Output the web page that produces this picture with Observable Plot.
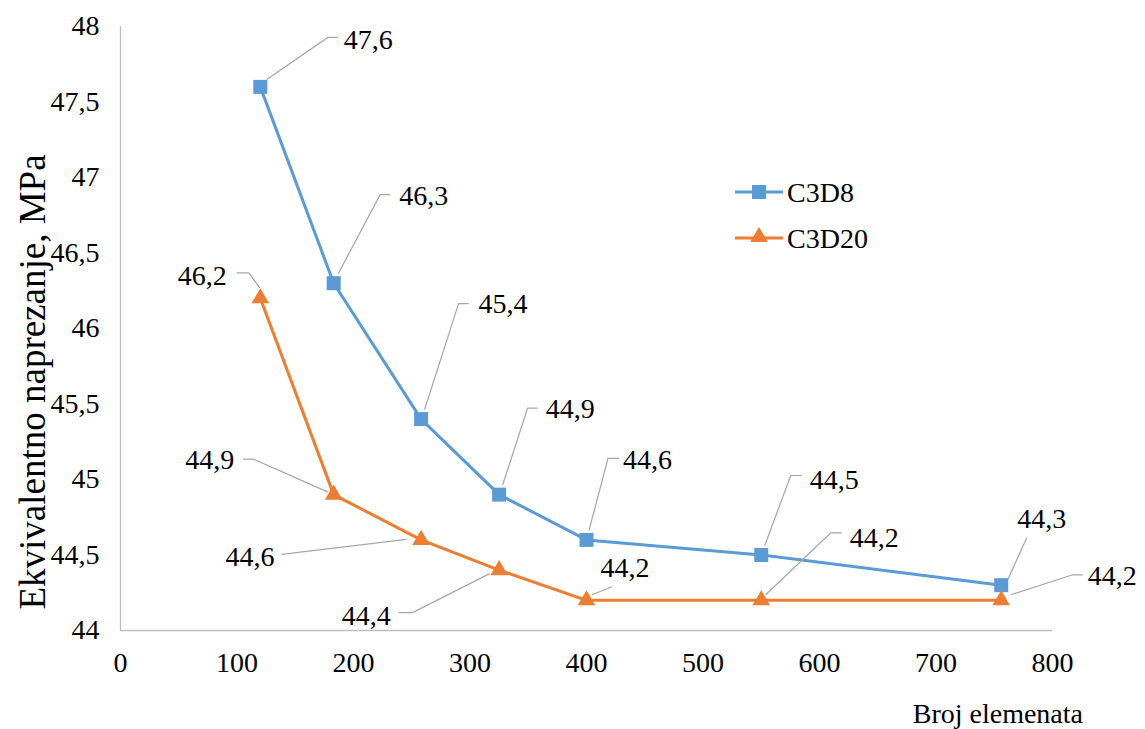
<!DOCTYPE html>
<html>
<head>
<meta charset="utf-8">
<script src="https://cdn.jsdelivr.net/npm/d3@7"></script>
<script src="https://cdn.jsdelivr.net/npm/@observablehq/plot@0.6"></script>
<style>
  html, body { margin: 0; padding: 0; background: #fff; }
  #chart { width: 1145px; height: 729px; }
  #chart svg text { font-family: 'Liberation Serif', serif !important; }
</style>
</head>
<body>
<div id="chart"></div>
<script>
// ---- data ----
const seriesNames = ["C3D8", "C3D20"];
const elementCounts = [120, 183, 258, 325, 400, 550, 756];
const c3d8Values = [47.6, 46.3, 45.4, 44.9, 44.6, 44.5, 44.3];
const c3d20Values = [46.2, 44.9, 44.6, 44.4, 44.2, 44.2, 44.2];
const xTicks = [0, 100, 200, 300, 400, 500, 600, 700, 800];
const yTicks = [44, 44.5, 45, 45.5, 46, 46.5, 47, 47.5, 48];
const xTitle = "Broj elemenata";
const yTitle = "Ekvivalentno naprezanje, MPa";

// ---- styles / layout ----
const colors = ["#5b9bd5", "#ed7d31"];
const font = "'Liberation Serif', serif";
const fontSize = 28;
const leaderColor = "#a6a6a6";
const fmt = v => String(v).replace(".", ",");

// label layout (pixel offsets from the point): start, optional kink, end, text pos, anchor
const labelLayout = {
  "C3D8": [
    {s: [7, -7], k: [68, -49], e: [78, -49], t: [84, -47], a: "start"},
    {s: [5, -9], k: [47, -88], e: [57, -88], t: [66, -88], a: "start"},
    {s: [4, -9], k: [38, -115], e: [48, -115], t: [58, -115], a: "start"},
    {s: [4, -9], k: [29, -86], e: [39, -86], t: [47, -86], a: "start"},
    {s: [3, -9], k: [22, -81], e: [33, -81], t: [37, -80], a: "start"},
    {s: [4, -9], k: [30, -79], e: [41, -79], t: [49, -75], a: "start"},
    {s: [7, -5], k: null, e: [26, -47], t: [41, -67], a: "middle"}
  ],
  "C3D20": [
    {s: [0, -10], k: [-11, -25], e: [-23, -25], t: [-33, -23], a: "end"},
    {s: [-5, -2], k: [-80, -35], e: [-90, -35], t: [-99, -35], a: "end"},
    {s: [-14, 0], k: null, e: [-139, 15], t: [-146, 17], a: "end"},
    {s: [-9, 4], k: [-86, 43], e: [-100, 43], t: [-108, 46], a: "end"},
    {s: [6, -5], k: null, e: [26, -13], t: [39, -33], a: "middle"},
    {s: [5, -5], k: [70, -67], e: [81, -67], t: [89, -63], a: "start"},
    {s: [10, -5], k: [72, -25], e: [82, -25], t: [87, -25], a: "start"}
  ]
};

const valuesBySeries = {"C3D8": c3d8Values, "C3D20": c3d20Values};
const rows = [];
seriesNames.forEach(s => {
  valuesBySeries[s].forEach((v, i) => rows.push({series: s, x: elementCounts[i], y: v, i}));
});

function addText(g, size) {
  return g.append("text")
    .style("font-family", font)
    .style("font-size", size + "px")
    .attr("fill", "#000");
}

function overlay(index, scales, values, dimensions) {
  const g = d3.create("svg:g");
  // data labels with leader lines
  rows.forEach(r => {
    const L = labelLayout[r.series][r.i];
    const px = scales.x(r.x), py = scales.y(r.y);
    const pts = [L.s, L.k, L.e].filter(Boolean).map(([dx, dy]) => [px + dx, py + dy]);
    g.append("path")
      .attr("d", d3.line()(pts))
      .attr("fill", "none")
      .attr("stroke", leaderColor)
      .attr("stroke-width", 1.2);
    addText(g, fontSize)
      .attr("x", px + L.t[0])
      .attr("y", py + L.t[1])
      .attr("dy", "0.35em")
      .attr("text-anchor", L.a)
      .text(fmt(r.y));
  });
  // legend
  const legendX = 735, legendY = [192, 238];
  seriesNames.forEach((s, k) => {
    const y = legendY[k];
    g.append("line").attr("x1", legendX).attr("x2", legendX + 48)
      .attr("y1", y).attr("y2", y)
      .attr("stroke", colors[k]).attr("stroke-width", 3);
    const sym = k === 0 ? d3.symbolSquare : d3.symbolTriangle;
    const size = k === 0 ? 196 : 133;
    g.append("path")
      .attr("d", d3.symbol(sym, size)())
      .attr("transform", `translate(${legendX + 24},${y + (k === 0 ? 0 : -1)})`)
      .attr("fill", colors[k]);
    addText(g, fontSize)
      .attr("x", legendX + 52).attr("y", y)
      .attr("dy", "0.35em")
      .attr("text-anchor", "start")
      .text(s);
  });
  // axis titles
  addText(g, 37)
    .attr("transform", `translate(45,382) rotate(-90)`)
    .attr("text-anchor", "middle")
    .text(yTitle);
  addText(g, fontSize)
    .attr("x", 1083).attr("y", 713)
    .attr("dy", "0.35em")
    .attr("text-anchor", "end")
    .text(xTitle);
  return g.node();
}

const plot = Plot.plot({
  width: 1145,
  height: 729,
  marginLeft: 120,
  marginRight: 93,
  marginTop: 26,
  marginBottom: 99,
  style: {fontSize: fontSize + "px", background: "#fff", color: "#000"},
  x: {domain: [0, 800], ticks: xTicks, tickSize: 0, tickPadding: 22, tickFormat: fmt, label: null},
  y: {domain: [44, 48], ticks: yTicks, tickSize: 0, tickPadding: 21, tickFormat: fmt, label: null},
  color: {domain: seriesNames, range: colors},
  marks: [
    Plot.ruleX([0], {stroke: "#bfbfbf", strokeWidth: 1.3}),
    Plot.ruleY([44], {stroke: "#bfbfbf", strokeWidth: 1.3}),
    Plot.line(rows, {x: "x", y: "y", z: "series", stroke: "series", strokeWidth: 3}),
    Plot.dot(rows.filter(r => r.series === "C3D8"), {x: "x", y: "y", symbol: "square", r: 7.9, fill: "series", stroke: null}),
    Plot.dot(rows.filter(r => r.series === "C3D20"), {x: "x", y: "y", symbol: "triangle", r: 6.5, fill: "series", stroke: null}),
    overlay
  ]
});
plot.querySelectorAll("text").forEach(t => { t.style.fontFamily = font; });
document.getElementById("chart").appendChild(plot);
</script>
</body>
</html>
